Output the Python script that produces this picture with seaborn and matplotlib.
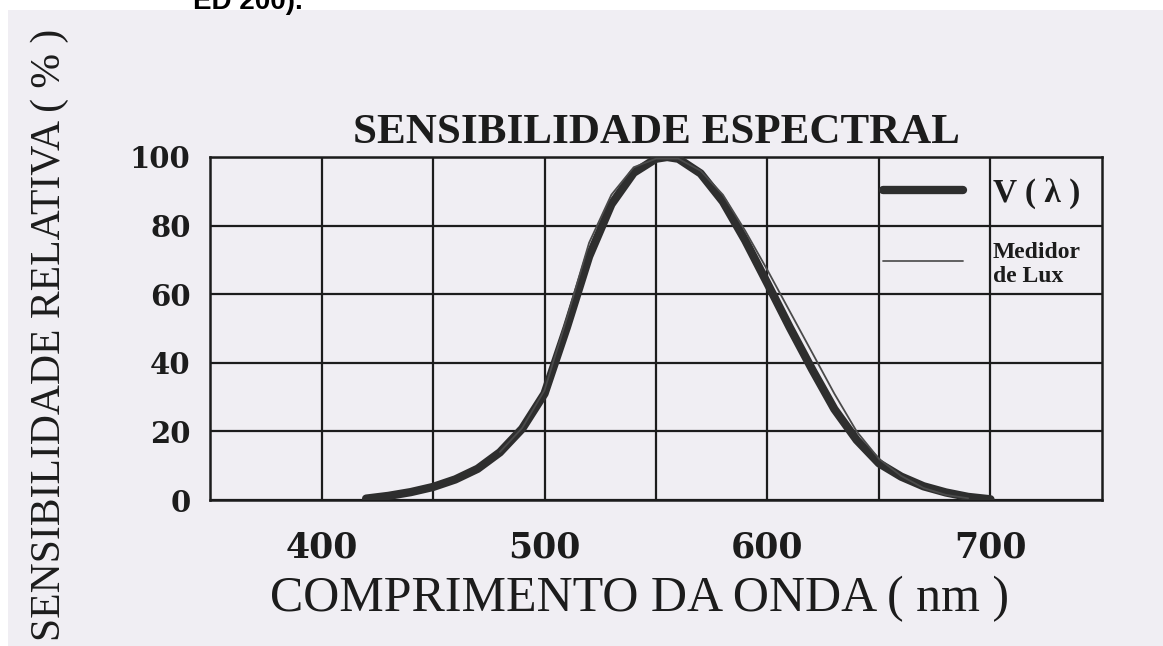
import matplotlib
matplotlib.use("Agg")
import matplotlib.pyplot as plt
import pandas as pd
import seaborn as sns
from matplotlib.lines import Line2D
from matplotlib.patches import Rectangle

# curva V(lambda) (traco grosso), em %
wl_v = [420, 430, 440, 450, 460, 470, 480, 490, 500, 510, 520, 530, 540,
        550, 555, 560, 570, 580, 590, 600, 610, 620, 630, 640, 650, 660,
        670, 680, 690, 700]
v_lambda = [0.4, 1.2, 2.3, 3.8, 6.0, 9.1, 13.9, 20.8, 31.0, 50.3, 71.0,
            86.2, 95.4, 99.5, 100.0, 99.5, 95.2, 87.0, 75.7, 63.1, 50.3,
            38.1, 26.5, 17.5, 10.7, 6.8, 4.0, 2.2, 0.9, 0.2]

# curva do medidor de lux (traco fino), em %
wl_lux = [480, 490, 500, 510, 520, 530, 540, 550, 560, 570, 580, 590, 600,
          610, 620, 630, 640, 650, 660, 670, 680, 690]
lux_meter = [14.0, 21.0, 32.0, 53.0, 75.0, 89.0, 97.0, 99.5, 99.5, 96.0,
             89.0, 78.5, 67.0, 55.0, 43.0, 31.0, 20.0, 12.0, 7.0, 3.5, 1.5,
             0.5]

x_major = [400, 500, 600, 700]
x_minor = [450, 550, 650]
y_ticks = [0, 20, 40, 60, 80, 100]

df_v = pd.DataFrame({"wl": wl_v, "rel": v_lambda})
df_lux = pd.DataFrame({"wl": wl_lux, "rel": lux_meter})

paper = "#f0eef3"
ink = "#1c1c1c"

sns.set_theme(style="white")
plt.rcParams["font.family"] = ["Liberation Serif", "DejaVu Serif"]

fig = plt.figure(figsize=(11.63, 6.46), dpi=100, facecolor="white")
fig.patches.append(Rectangle((8 / 1163, 0), 1, 1 - 10 / 646,
                             transform=fig.transFigure, facecolor=paper,
                             edgecolor="none", zorder=-10))
# cabecalho do documento, cortado no topo como no original
fig.text(193 / 1163, 1 - 9 / 646, "ED 200).", family="Liberation Sans",
         weight="bold", fontsize=20, va="baseline", color="black")

ax = fig.add_axes([0.1806, 0.226, 0.7669, 0.531])
ax.set_facecolor(paper)

sns.lineplot(data=df_v, x="wl", y="rel", ax=ax, color="#2e2e2e",
             linewidth=6.0, sort=True, zorder=4)
sns.lineplot(data=df_lux, x="wl", y="rel", ax=ax, color="#4a4a4a",
             linewidth=1.3, sort=True, zorder=5)

ax.set_xlim(350, 750)
ax.set_ylim(0, 100)
ax.set_xticks(x_major)
ax.set_xticks(x_minor, minor=True)
ax.set_yticks(y_ticks)
ax.grid(True, which="both", color=ink, linewidth=1.6)
ax.set_axisbelow(True)
for s in ax.spines.values():
    s.set_color(ink)
    s.set_linewidth(1.8)

ax.tick_params(axis="both", which="both", length=0)
ax.tick_params(axis="x", pad=22)
ax.tick_params(axis="y", pad=14)
for lab in ax.get_xticklabels():
    lab.set_fontfamily("DejaVu Serif")
    lab.set_fontweight("bold")
    lab.set_fontsize(25)
    lab.set_color(ink)
for lab in ax.get_yticklabels():
    lab.set_fontfamily("DejaVu Serif")
    lab.set_fontweight("bold")
    lab.set_fontsize(21)
    lab.set_color(ink)

ax.set_xlabel("COMPRIMENTO DA ONDA ( nm )", fontsize=36, color=ink)
ax.xaxis.set_label_coords(0.482, -0.222)
ax.xaxis.label.set_va("top")
ax.set_ylabel("SENSIBILIDADE RELATIVA ( % )", fontsize=30, color=ink)
ax.yaxis.set_label_coords(-0.158, 0.48)

ax.set_title("SENSIBILIDADE ESPECTRAL", fontsize=31, weight="bold",
             color=ink, pad=10)

handles = [Line2D([], [], color="#2e2e2e", linewidth=6.0),
           Line2D([], [], color="#555555", linewidth=1.3)]
leg = ax.legend(handles, ["V ( λ )", "Medidor\nde Lux"], loc="upper left",
                bbox_to_anchor=((876 - 210) / 892, 1 - 14 / 343),
                frameon=False, fontsize=24, handlelength=2.4,
                handletextpad=0.9, labelspacing=1.0, borderaxespad=0,
                borderpad=0.2)
leg.get_texts()[1].set_fontsize(17)
for t in leg.get_texts():
    t.set_color(ink)
    t.set_fontweight("bold")

fig.savefig("out.png", dpi=100, facecolor=fig.get_facecolor())
